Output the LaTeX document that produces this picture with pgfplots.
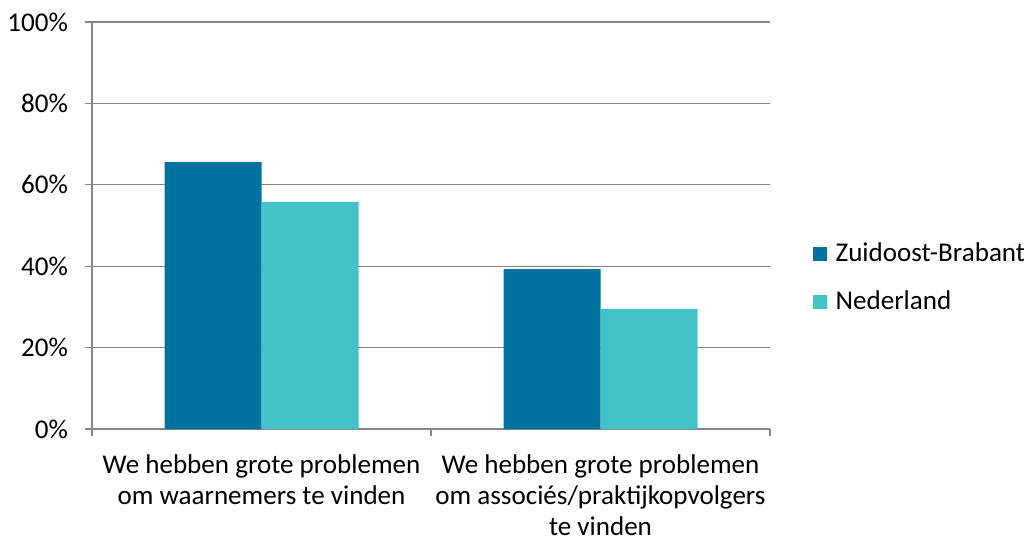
\documentclass[border=0pt]{standalone}
\usepackage{fontspec}
\setmainfont{Carlito}
\usepackage{pgfplots}
\pgfplotsset{compat=1.18}
\definecolor{darkbar}{RGB}{0,114,160}
\definecolor{lightbar}{RGB}{67,194,199}
\definecolor{gridgray}{RGB}{134,134,134}
\begin{document}
\fontsize{20.3}{22.5}\selectfont
\begin{tikzpicture}
\path[use as bounding box] (-69pt,-80.25pt) rectangle (699pt,321.75pt);
\begin{axis}[
  at={(0,0)}, anchor=south west,
  scale only axis, width=508.5pt, height=305.25pt,
  ybar=0pt, bar width=72.75pt,
  xmin=-0.5, xmax=1.5, ymin=0, ymax=100,
  xtick={0,1},
  xticklabels={{We hebben grote problemen\\om waarnemers te vinden},{We hebben grote problemen\\om associés/praktijkopvolgers\\te vinden}},
  x tick style={draw=none},
  extra x ticks={-0.5,0.5,1.5},
  extra x tick labels={},
  extra x tick style={grid=none, x tick style={draw=gridgray, line width=0.9pt}},
  ytick={0,20,40,60,80,100},
  yticklabel={\pgfmathprintnumber{\tick}\%},
  /pgf/number format/assume math mode=true,
  ymajorgrids, grid style={gridgray, line width=0.9pt},
  axis x line*=bottom, axis y line*=left,
  every outer x axis line/.append style={-},
  every outer y axis line/.append style={-},
  axis line style={-, gridgray, line width=0.9pt},
  tick align=outside, major tick length=5.25pt,
  y tick style={gridgray, line width=0.9pt},
  ticklabel style={font=\fontsize{20.3}{23.5}\selectfont},
  yticklabel style={xshift=-5.8pt},
  xticklabel style={align=center, inner sep=0pt, yshift=-13.6pt},
  legend style={at={(1,0.376)}, anchor=west, xshift=32pt, yshift=-1.5pt, draw=none, fill=none,
    inner sep=0pt, row sep=14.5pt, font=\fontsize{20.3}{23.5}\selectfont},
  legend cell align=left,
  legend image code/.code={\fill[#1] (0pt,-5.25pt) rectangle (10.5pt,5.25pt); \path (0pt,0pt) -- (15pt,0pt);},
]
\addplot[fill=darkbar, draw=none] coordinates {(0,65.6) (1,39.3)};
\addplot[fill=lightbar, draw=none] coordinates {(0,55.8) (1,29.5)};
\legend{Zuidoost-Brabant, Nederland}
\end{axis}
\end{tikzpicture}
\end{document}
